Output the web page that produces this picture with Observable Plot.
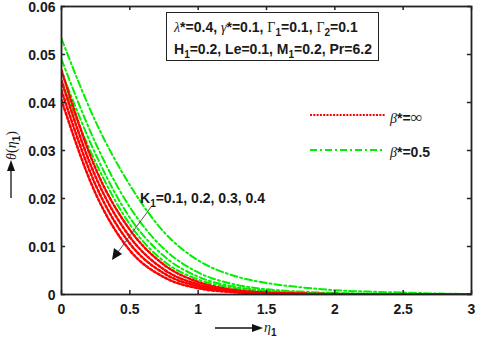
<!DOCTYPE html>
<html><head><meta charset="utf-8">
<script src="https://cdn.jsdelivr.net/npm/d3@7"></script>
<script src="https://cdn.jsdelivr.net/npm/@observablehq/plot@0.6"></script>
<style>
body{margin:0;background:#fff;}
#wrap{position:relative;width:480px;height:342px;font-family:"Liberation Sans",Arial,sans-serif;font-weight:bold;color:#1a1a1a;overflow:hidden;}
.ov{position:absolute;white-space:nowrap;font-size:14px;line-height:1;}
.g{font-family:"Liberation Serif","Times New Roman",serif;font-weight:normal;}
.gi{font-family:"Liberation Serif","Times New Roman",serif;font-weight:normal;font-style:italic;}
.sb{font-size:10px;position:relative;top:4px;}
#box{position:absolute;left:166px;top:12px;width:211px;height:47px;border:1.5px solid #222;}
svg.over{position:absolute;left:0;top:0;pointer-events:none;}
</style></head><body><div id="wrap"></div>
<script>
// eta grid
const eta = [0, 0.25, 0.5, 0.75, 1, 1.25, 1.5, 1.75, 2, 2.25, 2.5, 2.75, 3];
// beta* = 0.5 (green, dash-dot), K1 = 0.1 .. 0.4
const green1 = [0.0533, 0.0360, 0.0228, 0.0130, 0.0071, 0.0040, 0.0024, 0.0015, 0.0009, 0.0006, 0.0004, 0.0002, 0.0001];
const green2 = [0.0490, 0.0315, 0.0182, 0.0095, 0.0046, 0.0022, 0.0011, 0.0006, 0.0003, 0.0002, 0.0001, 0.0000, 0.0000];
const green3 = [0.0465, 0.0292, 0.0160, 0.0080, 0.0037, 0.0017, 0.0008, 0.0004, 0.0002, 0.0001, 0.0000, 0.0000, 0.0000];
const green4 = [0.0445, 0.0275, 0.0146, 0.0069, 0.0031, 0.0014, 0.0006, 0.0003, 0.0001, 0.0000, 0.0000, 0.0000, 0.0000];
// beta* = infinity (red, dotted), K1 = 0.1 .. 0.4
const red1 = [0.0467, 0.0262, 0.0135, 0.0062, 0.0026, 0.0010, 0.0004, 0.0002, 0.0001, 0.0000, 0.0000, 0.0000, 0.0000];
const red2 = [0.0445, 0.0245, 0.0120, 0.0052, 0.0021, 0.0008, 0.0003, 0.0001, 0.0000, 0.0000, 0.0000, 0.0000, 0.0000];
const red3 = [0.0425, 0.0228, 0.0106, 0.0044, 0.0017, 0.0006, 0.0002, 0.0001, 0.0000, 0.0000, 0.0000, 0.0000, 0.0000];
const red4 = [0.0405, 0.0210, 0.0092, 0.0036, 0.0013, 0.0005, 0.0002, 0.0001, 0.0000, 0.0000, 0.0000, 0.0000, 0.0000];
const xTicks = [0, 0.5, 1, 1.5, 2, 2.5, 3];
const yTicks = [0, 0.01, 0.02, 0.03, 0.04, 0.05, 0.06];

const toRows = (arr, s) => arr.map((v, i) => ({eta: eta[i], theta: v, s}));
const greens = [green1, green2, green3, green4].flatMap((a, i) => toRows(a, "g" + i));
const reds = [red1, red2, red3, red4].flatMap((a, i) => toRows(a, "r" + i));

const tx = 0.03, ty = 0.00085;
const chart = Plot.plot({
  width: 480, height: 342,
  marginLeft: 61, marginRight: 9, marginTop: 6, marginBottom: 48,
  style: {fontFamily: "Liberation Sans, Arial, sans-serif", fontSize: "14px", fontWeight: "bold", color: "#1a1a1a", background: "#fff"},
  x: {domain: [0, 3]},
  y: {domain: [0, 0.06]},
  marks: [
    Plot.line(greens, {x: "eta", y: "theta", z: "s", stroke: "#00f000", strokeWidth: 2, strokeDasharray: "7,3,2,3", curve: "monotone-x", clip: true}),
    Plot.line(reds, {x: "eta", y: "theta", z: "s", stroke: "#ff0000", strokeWidth: 2.5, strokeDasharray: "2.2,2.2", curve: "monotone-x", clip: true}),
    Plot.ruleX(xTicks, {y1: 0, y2: ty, stroke: "#222", strokeWidth: 1.5}),
    Plot.ruleX(xTicks, {y1: 0.06, y2: 0.06 - ty, stroke: "#222", strokeWidth: 1.5}),
    Plot.ruleY(yTicks, {x1: 0, x2: tx, stroke: "#222", strokeWidth: 1.5}),
    Plot.ruleY(yTicks, {x1: 3, x2: 3 - tx, stroke: "#222", strokeWidth: 1.5}),
    Plot.axisX({ticks: xTicks, tickSize: 0, tickPadding: 10, label: null, tickFormat: d => String(d)}),
    Plot.axisY({ticks: yTicks, tickSize: 0, tickPadding: 6, label: null, dy: 1.5, tickFormat: d => String(d)}),
    Plot.frame({stroke: "#222", strokeWidth: 1.8})
  ]
});
const wrap = document.getElementById("wrap");
wrap.appendChild(chart);

wrap.insertAdjacentHTML("beforeend", `
<div id="box"></div>
<div class="ov" style="left:174px;top:20px;"><span class="gi">λ</span>*=0.4, <span class="gi">γ</span>*=0.1, <span class="g">Γ</span><span class="sb">1</span>=0.1, <span class="g">Γ</span><span class="sb">2</span>=0.1</div>
<div class="ov" style="left:174px;top:42px;">H<span class="sb">1</span>=0.2, Le=0.1, M<span class="sb">1</span>=0.2, Pr=6.2</div>
<div class="ov" style="left:390px;top:109px;"><span class="gi">β</span>*=<span class="g" style="font-size:17px">∞</span></div>
<div class="ov" style="left:390px;top:145px;"><span class="gi">β</span>*=0.5</div>
<div class="ov" style="left:140px;top:191px;">K<span class="sb">1</span>=0.1, 0.2, 0.3, 0.4</div>
<div class="ov" style="left:264px;top:320px;"><span class="gi">η</span><span class="sb">1</span></div>
<div class="ov" style="left:-7px;top:138px;width:36px;text-align:center;transform:rotate(-90deg);"><span class="gi">θ</span><span class="g">(</span><span class="gi">η</span><span class="sb">1</span><span class="g">)</span></div>
<svg class="over" width="480" height="342">
  <line x1="310" y1="115" x2="385" y2="115" stroke="#ff0000" stroke-width="2" stroke-dasharray="2,1.3"/>
  <line x1="310" y1="150" x2="385" y2="150" stroke="#00f000" stroke-width="2" stroke-dasharray="7,3,2,3"/>
  <line x1="11" y1="198" x2="11" y2="168" stroke="#111" stroke-width="1.3"/>
  <path d="M11,160 L7,171 L15,171 Z" fill="#111"/>
  <line x1="215" y1="328" x2="256" y2="328" stroke="#111" stroke-width="1.3"/>
  <path d="M263,328 L252,324 L252,332 Z" fill="#111"/>
  <line x1="151" y1="207" x2="118" y2="252" stroke="#444" stroke-width="0.9"/>
  <path d="M112,260 L114,248 L122,254 Z" fill="#111"/>
</svg>`);
</script>
</body></html>
